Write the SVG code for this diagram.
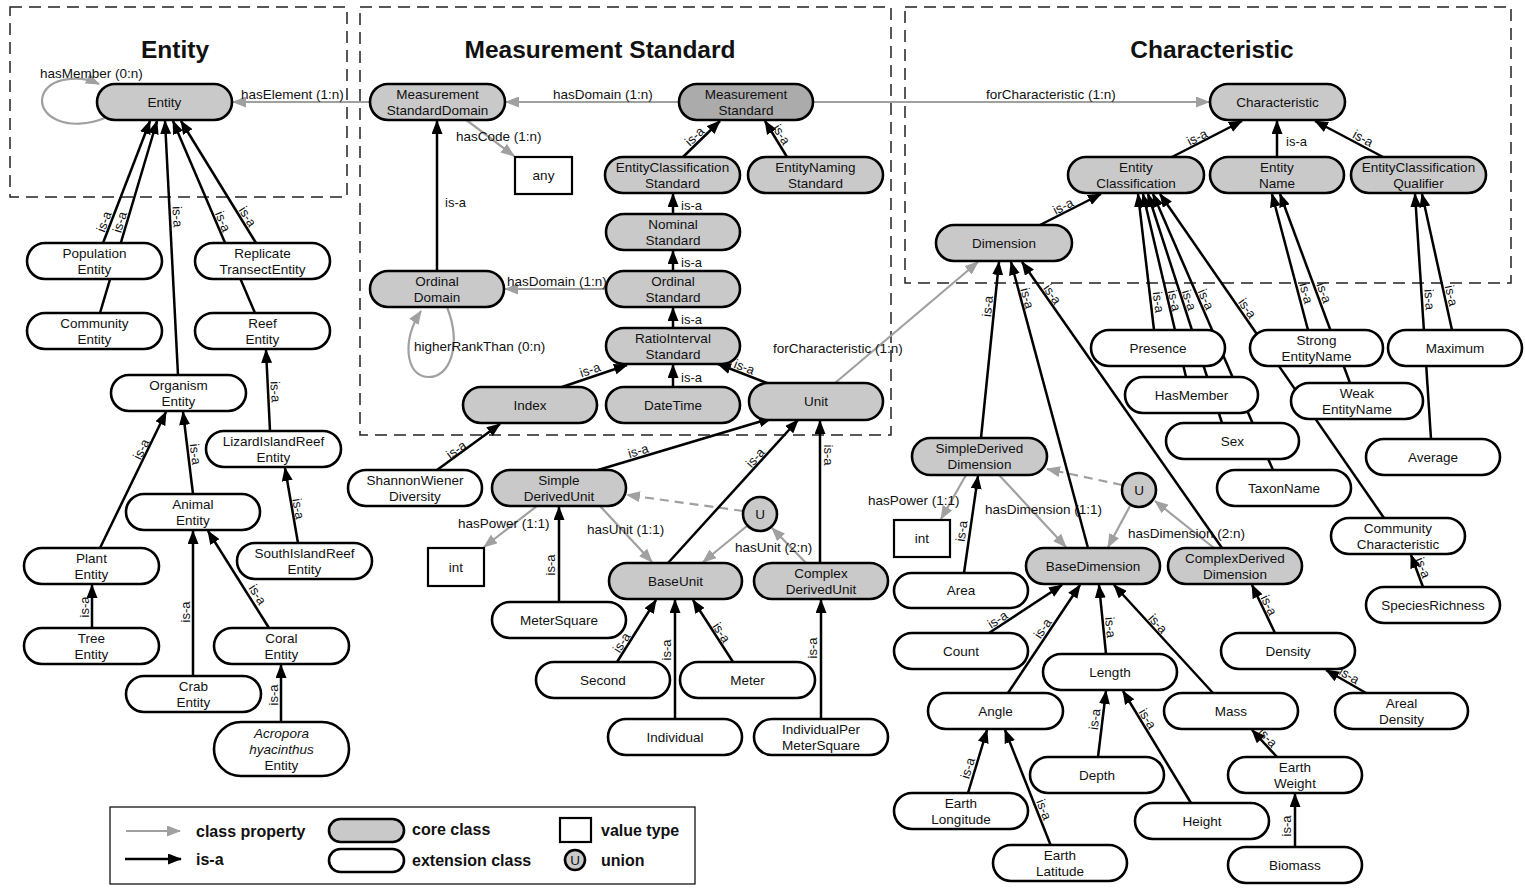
<svg xmlns="http://www.w3.org/2000/svg" width="1525" height="891" viewBox="0 0 1525 891">
<style>
.core{fill:#c9c9c9;stroke:#000;stroke-width:2.6}
.dark{fill:#ababab;stroke:#000;stroke-width:2.6}
.ext{fill:#fff;stroke:#000;stroke-width:2.6}
.val{fill:#fff;stroke:#000;stroke-width:2.2}
text{font-family:"Liberation Sans",Arial,sans-serif;fill:#111}
.t{font-size:13.5px;text-anchor:middle}
.lb{font-size:13.5px}
.isa{font-size:13px;text-anchor:middle}
.isl{font-size:13px}
.title{font-weight:bold;font-size:24.5px;text-anchor:middle}
.leg{font-weight:bold;font-size:16px}
.box{fill:none;stroke:#222;stroke-width:1.5;stroke-dasharray:12 7}
.is{stroke:#000;stroke-width:2.5;fill:none;marker-end:url(#ab)}
.pr{stroke:#a0a0a0;stroke-width:2.2;fill:none;marker-end:url(#ag)}
.dash{stroke-dasharray:9 6}
</style>
<defs>
<marker id="ab" viewBox="0 0 14 11" refX="13" refY="5.5" markerWidth="14" markerHeight="11" markerUnits="userSpaceOnUse" orient="auto"><path d="M0,0 L14,5.5 L0,11 z" fill="#000"/></marker>
<marker id="ag" viewBox="0 0 14 11" refX="13" refY="5.5" markerWidth="14" markerHeight="11" markerUnits="userSpaceOnUse" orient="auto"><path d="M0,0 L14,5.5 L0,11 z" fill="#a0a0a0"/></marker>
</defs>
<rect width="1525" height="891" fill="#fff"/>
<g id="packages">
<rect class="box" x="10" y="7" width="337" height="190"/>
<rect class="box" x="360" y="7" width="531" height="428"/>
<rect class="box" x="905" y="7" width="606" height="276"/>
<text class="title" x="175" y="58">Entity</text>
<text class="title" x="600" y="58">Measurement Standard</text>
<text class="title" x="1212" y="58">Characteristic</text>
</g>
<g id="connectors">
<!-- class properties -->
<path class="pr" d="M107,117 C68,134 36,116 43,95 C50,77 80,75 99,84"/>
<text class="lb" x="40" y="78">hasMember (0:n)</text>
<line class="pr" x1="370" y1="102" x2="233" y2="102"/>
<text class="lb" x="241" y="99">hasElement (1:n)</text>
<line class="pr" x1="679" y1="102" x2="506" y2="102"/>
<text class="lb" x="553" y="99">hasDomain (1:n)</text>
<line class="pr" x1="813" y1="102" x2="1209" y2="102"/>
<text class="lb" x="986" y="99">forCharacteristic (1:n)</text>
<line class="pr" x1="465" y1="119" x2="514" y2="156"/>
<text class="lb" x="456" y="141">hasCode (1:n)</text>
<line class="pr" x1="606" y1="289" x2="505" y2="289"/>
<text class="lb" x="507" y="286">hasDomain (1:n)</text>
<path class="pr" d="M447,307 C462,345 450,378 428,377 C405,376 402,340 421,311"/>
<text class="lb" x="414" y="351">higherRankThan (0:n)</text>
<line class="pr" x1="835" y1="383" x2="978" y2="262"/>
<text class="lb" x="773" y="353">forCharacteristic (1:n)</text>
<line class="pr" x1="537" y1="506" x2="484" y2="547"/>
<text class="lb" x="458" y="528">hasPower (1:1)</text>
<line class="pr" x1="600" y1="506" x2="652" y2="562"/>
<text class="lb" x="587" y="534">hasUnit (1:1)</text>
<line class="pr dash" x1="743" y1="511" x2="627" y2="495"/>
<line class="pr" x1="747" y1="526" x2="703" y2="562"/>
<line class="pr" x1="806" y1="563" x2="772" y2="528"/>
<text class="lb" x="735" y="552">hasUnit (2:n)</text>
<line class="pr" x1="966" y1="475" x2="941" y2="519"/>
<text class="lb" x="868" y="505">hasPower (1:1)</text>
<line class="pr" x1="999" y1="475" x2="1066" y2="547"/>
<text class="lb" x="985" y="514">hasDimension (1:1)</text>
<line class="pr dash" x1="1122" y1="485" x2="1047" y2="469"/>
<line class="pr" x1="1130" y1="506" x2="1108" y2="547"/>
<line class="pr" x1="1214" y1="548" x2="1155" y2="501"/>
<text class="lb" x="1128" y="538">hasDimension (2:n)</text>
<!-- is-a : Entity package -->
<line class="is" x1="103" y1="243" x2="150" y2="121"/>
<line class="is" x1="100" y1="313" x2="157" y2="121"/>
<line class="is" x1="178" y1="375" x2="165" y2="121"/>
<line class="is" x1="255" y1="313" x2="173" y2="121"/>
<line class="is" x1="256" y1="243" x2="181" y2="121"/>
<text class="isa" transform="translate(110,224) rotate(-69)" y="-2">is-a</text>
<text class="isa" transform="translate(126,224) rotate(-73)" y="-2">is-a</text>
<text class="isa" transform="translate(171,217) rotate(87)" y="-2">is-a</text>
<text class="isa" transform="translate(217,224) rotate(67)" y="-2">is-a</text>
<text class="isa" transform="translate(242,220) rotate(58)" y="-2">is-a</text>
<line class="is" x1="100" y1="548" x2="166" y2="412"/>
<text class="isa" transform="translate(147,452) rotate(-64)" y="-2">is-a</text>
<line class="is" x1="193" y1="494" x2="183" y2="412"/>
<text class="isa" transform="translate(189,455) rotate(83)" y="-2">is-a</text>
<line class="is" x1="92" y1="628" x2="92" y2="585"/>
<text class="isa" transform="translate(91,607) rotate(-90)" y="-2">is-a</text>
<line class="is" x1="193" y1="676" x2="193" y2="531"/>
<text class="isa" transform="translate(192,612) rotate(-90)" y="-2">is-a</text>
<line class="is" x1="269" y1="628" x2="208" y2="531"/>
<text class="isa" transform="translate(252,598) rotate(58)" y="-2">is-a</text>
<line class="is" x1="281" y1="722" x2="281" y2="665"/>
<text class="isa" transform="translate(280,695) rotate(-90)" y="-2">is-a</text>
<line class="is" x1="270" y1="431" x2="266" y2="350"/>
<text class="isa" transform="translate(269,392) rotate(87)" y="-2">is-a</text>
<line class="is" x1="298" y1="543" x2="285" y2="468"/>
<text class="isa" transform="translate(292,510) rotate(80)" y="-2">is-a</text>
<!-- is-a : Measurement Standard -->
<line class="is" x1="437" y1="271" x2="437" y2="121"/>
<text class="isl" x="445" y="207">is-a</text>
<line class="is" x1="683" y1="157" x2="720" y2="121"/>
<text class="isa" transform="translate(699,141) rotate(-44)" y="-2">is-a</text>
<line class="is" x1="787" y1="157" x2="765" y2="121"/>
<text class="isa" transform="translate(776,138) rotate(58)" y="-2">is-a</text>
<line class="is" x1="673" y1="214" x2="673" y2="194"/>
<text class="isl" x="681" y="210">is-a</text>
<line class="is" x1="673" y1="271" x2="673" y2="251"/>
<text class="isl" x="681" y="267">is-a</text>
<line class="is" x1="673" y1="328" x2="673" y2="308"/>
<text class="isl" x="681" y="324">is-a</text>
<line class="is" x1="673" y1="387" x2="673" y2="365"/>
<text class="isl" x="681" y="382">is-a</text>
<line class="is" x1="562" y1="387" x2="627" y2="365"/>
<text class="isa" transform="translate(592,376) rotate(-19)" y="-2">is-a</text>
<line class="is" x1="767" y1="383" x2="718" y2="364"/>
<text class="isa" transform="translate(742,373) rotate(21)" y="-2">is-a</text>
<line class="is" x1="437" y1="470" x2="500" y2="424"/>
<text class="isa" transform="translate(460,455) rotate(-36)" y="-2">is-a</text>
<line class="is" x1="598" y1="470" x2="772" y2="418"/>
<text class="isa" transform="translate(640,457) rotate(-17)" y="-2">is-a</text>
<line class="is" x1="668" y1="563" x2="798" y2="420"/>
<text class="isa" transform="translate(760,462) rotate(-48)" y="-2">is-a</text>
<line class="is" x1="820" y1="563" x2="820" y2="421"/>
<text class="isa" transform="translate(822,455) rotate(90)" y="-2">is-a</text>
<line class="is" x1="559" y1="602" x2="559" y2="507"/>
<text class="isa" transform="translate(557,565) rotate(-90)" y="-2">is-a</text>
<line class="is" x1="617" y1="662" x2="656" y2="600"/>
<text class="isa" transform="translate(627,646) rotate(-58)" y="-2">is-a</text>
<line class="is" x1="675" y1="719" x2="675" y2="600"/>
<text class="isa" transform="translate(673,650) rotate(-90)" y="-2">is-a</text>
<line class="is" x1="733" y1="662" x2="693" y2="600"/>
<text class="isa" transform="translate(716,636) rotate(57)" y="-2">is-a</text>
<line class="is" x1="821" y1="719" x2="821" y2="600"/>
<text class="isa" transform="translate(819,648) rotate(-90)" y="-2">is-a</text>
<!-- is-a : Characteristic -->
<line class="is" x1="1172" y1="157" x2="1242" y2="121"/>
<text class="isa" transform="translate(1200,143) rotate(-27)" y="-2">is-a</text>
<line class="is" x1="1277" y1="157" x2="1277" y2="121"/>
<text class="isl" x="1286" y="146">is-a</text>
<line class="is" x1="1383" y1="157" x2="1315" y2="121"/>
<text class="isa" transform="translate(1360,144) rotate(28)" y="-2">is-a</text>
<line class="is" x1="1040" y1="225" x2="1101" y2="194"/>
<text class="isa" transform="translate(1066,212) rotate(-27)" y="-2">is-a</text>
<line class="is" x1="1154" y1="330" x2="1138" y2="194"/>
<line class="is" x1="1186" y1="377" x2="1143" y2="194"/>
<line class="is" x1="1222" y1="423" x2="1148" y2="194"/>
<line class="is" x1="1273" y1="470" x2="1153" y2="194"/>
<line class="is" x1="1384" y1="518" x2="1160" y2="194"/>
<text class="isa" transform="translate(1152,303) rotate(83)" y="-2">is-a</text>
<text class="isa" transform="translate(1168,302) rotate(77)" y="-2">is-a</text>
<text class="isa" transform="translate(1183,302) rotate(72)" y="-2">is-a</text>
<text class="isa" transform="translate(1200,302) rotate(66)" y="-2">is-a</text>
<text class="isa" transform="translate(1242,312) rotate(55)" y="-2">is-a</text>
<line class="is" x1="1308" y1="330" x2="1272" y2="194"/>
<line class="is" x1="1350" y1="383" x2="1280" y2="194"/>
<text class="isa" transform="translate(1300,295) rotate(75)" y="-2">is-a</text>
<text class="isa" transform="translate(1318,295) rotate(70)" y="-2">is-a</text>
<line class="is" x1="1431" y1="439" x2="1415" y2="194"/>
<line class="is" x1="1452" y1="330" x2="1422" y2="194"/>
<text class="isa" transform="translate(1423,300) rotate(86)" y="-2">is-a</text>
<text class="isa" transform="translate(1445,297) rotate(78)" y="-2">is-a</text>
<line class="is" x1="981" y1="438" x2="999" y2="262"/>
<line class="is" x1="1088" y1="548" x2="1011" y2="262"/>
<line class="is" x1="1222" y1="548" x2="1022" y2="262"/>
<text class="isa" transform="translate(994,307) rotate(-84)" y="-2">is-a</text>
<text class="isa" transform="translate(1021,300) rotate(75)" y="-2">is-a</text>
<text class="isa" transform="translate(1047,298) rotate(55)" y="-2">is-a</text>
<line class="is" x1="964" y1="573" x2="978" y2="476"/>
<text class="isa" transform="translate(968,532) rotate(-82)" y="-2">is-a</text>
<line class="is" x1="989" y1="633" x2="1062" y2="585"/>
<text class="isa" transform="translate(1001,625) rotate(-33)" y="-2">is-a</text>
<line class="is" x1="1008" y1="693" x2="1080" y2="585"/>
<text class="isa" transform="translate(1048,632) rotate(-56)" y="-2">is-a</text>
<line class="is" x1="1106" y1="654" x2="1099" y2="585"/>
<text class="isa" transform="translate(1104,628) rotate(84)" y="-2">is-a</text>
<line class="is" x1="1213" y1="693" x2="1114" y2="585"/>
<text class="isa" transform="translate(1153,628) rotate(48)" y="-2">is-a</text>
<line class="is" x1="1275" y1="633" x2="1252" y2="585"/>
<text class="isa" transform="translate(1263,608) rotate(64)" y="-2">is-a</text>
<line class="is" x1="1366" y1="693" x2="1326" y2="670"/>
<text class="isa" transform="translate(1346,681) rotate(30)" y="-2">is-a</text>
<line class="is" x1="968" y1="793" x2="987" y2="730"/>
<text class="isa" transform="translate(974,770) rotate(-73)" y="-2">is-a</text>
<line class="is" x1="1051" y1="846" x2="1005" y2="730"/>
<text class="isa" transform="translate(1038,812) rotate(68)" y="-2">is-a</text>
<line class="is" x1="1098" y1="757" x2="1106" y2="691"/>
<text class="isa" transform="translate(1101,720) rotate(-83)" y="-2">is-a</text>
<line class="is" x1="1191" y1="803" x2="1123" y2="691"/>
<text class="isa" transform="translate(1142,722) rotate(59)" y="-2">is-a</text>
<line class="is" x1="1277" y1="757" x2="1252" y2="730"/>
<text class="isa" transform="translate(1263,742) rotate(47)" y="-2">is-a</text>
<line class="is" x1="1295" y1="847" x2="1295" y2="794"/>
<text class="isa" transform="translate(1293,826) rotate(-90)" y="-2">is-a</text>
<line class="is" x1="1423" y1="587" x2="1411" y2="555"/>
<text class="isa" transform="translate(1417,570) rotate(69)" y="-2">is-a</text>
</g>
<!-- Entity package nodes -->
<g id="n-entity"><rect class="core" x="97" y="84" width="135" height="36" rx="18"/><text class="t" x="164.5" y="107">Entity</text></g>
<g id="n-population"><rect class="ext" x="27" y="243" width="135" height="36" rx="18"/><text class="t"><tspan x="94.5" y="258">Population</tspan><tspan x="94.5" y="274">Entity</tspan></text></g>
<g id="n-replicate"><rect class="ext" x="195" y="243" width="135" height="36" rx="18"/><text class="t"><tspan x="262.5" y="258">Replicate</tspan><tspan x="262.5" y="274">TransectEntity</tspan></text></g>
<g id="n-community"><rect class="ext" x="27" y="313" width="135" height="36" rx="18"/><text class="t"><tspan x="94.5" y="328">Community</tspan><tspan x="94.5" y="344">Entity</tspan></text></g>
<g id="n-reef"><rect class="ext" x="195" y="313" width="135" height="36" rx="18"/><text class="t"><tspan x="262.5" y="328">Reef</tspan><tspan x="262.5" y="344">Entity</tspan></text></g>
<g id="n-organism"><rect class="ext" x="111" y="375" width="135" height="36" rx="18"/><text class="t"><tspan x="178.5" y="390">Organism</tspan><tspan x="178.5" y="406">Entity</tspan></text></g>
<g id="n-lizard"><rect class="ext" x="206" y="431" width="135" height="36" rx="18"/><text class="t"><tspan x="273.5" y="446">LizardIslandReef</tspan><tspan x="273.5" y="462">Entity</tspan></text></g>
<g id="n-animal"><rect class="ext" x="126" y="494" width="134" height="36" rx="18"/><text class="t"><tspan x="193" y="509">Animal</tspan><tspan x="193" y="525">Entity</tspan></text></g>
<g id="n-southisland"><rect class="ext" x="237" y="543" width="135" height="36" rx="18"/><text class="t"><tspan x="304.5" y="558">SouthIslandReef</tspan><tspan x="304.5" y="574">Entity</tspan></text></g>
<g id="n-plant"><rect class="ext" x="24" y="548" width="135" height="36" rx="18"/><text class="t"><tspan x="91.5" y="563">Plant</tspan><tspan x="91.5" y="579">Entity</tspan></text></g>
<g id="n-tree"><rect class="ext" x="24" y="628" width="135" height="36" rx="18"/><text class="t"><tspan x="91.5" y="643">Tree</tspan><tspan x="91.5" y="659">Entity</tspan></text></g>
<g id="n-coral"><rect class="ext" x="214" y="628" width="135" height="36" rx="18"/><text class="t"><tspan x="281.5" y="643">Coral</tspan><tspan x="281.5" y="659">Entity</tspan></text></g>
<g id="n-crab"><rect class="ext" x="126" y="676" width="135" height="36" rx="18"/><text class="t"><tspan x="193.5" y="691">Crab</tspan><tspan x="193.5" y="707">Entity</tspan></text></g>
<g id="n-acropora"><rect class="ext" x="214" y="722" width="135" height="54" rx="27"/><text class="t"><tspan x="281.5" y="738" font-style="italic">Acropora</tspan><tspan x="281.5" y="754" font-style="italic">hyacinthus</tspan><tspan x="281.5" y="770">Entity</tspan></text></g>
<!-- Measurement Standard package nodes -->
<g id="n-msd"><rect class="core" x="370" y="84" width="135" height="36" rx="18"/><text class="t"><tspan x="437.5" y="99">Measurement</tspan><tspan x="437.5" y="115">StandardDomain</tspan></text></g>
<g id="n-ms"><rect class="dark" x="679" y="84" width="134" height="36" rx="18"/><text class="t"><tspan x="746" y="99">Measurement</tspan><tspan x="746" y="115">Standard</tspan></text></g>
<g id="n-any"><rect class="val" x="515" y="157" width="57" height="37"/><text class="t" x="543.5" y="180">any</text></g>
<g id="n-ecs"><rect class="core" x="605" y="157" width="135" height="36" rx="18"/><text class="t"><tspan x="672.5" y="172">EntityClassification</tspan><tspan x="672.5" y="188">Standard</tspan></text></g>
<g id="n-ens"><rect class="core" x="748" y="157" width="135" height="36" rx="18"/><text class="t"><tspan x="815.5" y="172">EntityNaming</tspan><tspan x="815.5" y="188">Standard</tspan></text></g>
<g id="n-nominal"><rect class="core" x="606" y="214" width="134" height="36" rx="18"/><text class="t"><tspan x="673" y="229">Nominal</tspan><tspan x="673" y="245">Standard</tspan></text></g>
<g id="n-ordinalstd"><rect class="core" x="606" y="271" width="134" height="36" rx="18"/><text class="t"><tspan x="673" y="286">Ordinal</tspan><tspan x="673" y="302">Standard</tspan></text></g>
<g id="n-ordinaldom"><rect class="core" x="370" y="271" width="134" height="36" rx="18"/><text class="t"><tspan x="437" y="286">Ordinal</tspan><tspan x="437" y="302">Domain</tspan></text></g>
<g id="n-ratio"><rect class="core" x="606" y="328" width="134" height="36" rx="18"/><text class="t"><tspan x="673" y="343">RatioInterval</tspan><tspan x="673" y="359">Standard</tspan></text></g>
<g id="n-index"><rect class="core" x="463" y="387" width="134" height="36" rx="18"/><text class="t" x="530" y="410">Index</text></g>
<g id="n-datetime"><rect class="core" x="606" y="387" width="134" height="36" rx="18"/><text class="t" x="673" y="410">DateTime</text></g>
<g id="n-unit"><rect class="core" x="749" y="383" width="134" height="37" rx="18.5"/><text class="t" x="816" y="406">Unit</text></g>
<g id="n-shannon"><rect class="ext" x="348" y="470" width="134" height="36" rx="18"/><text class="t"><tspan x="415" y="485">ShannonWiener</tspan><tspan x="415" y="501">Diversity</tspan></text></g>
<g id="n-sdu"><rect class="core" x="492" y="470" width="134" height="36" rx="18"/><text class="t"><tspan x="559" y="485">Simple</tspan><tspan x="559" y="501">DerivedUnit</tspan></text></g>
<g id="n-int1"><rect class="val" x="428" y="548" width="56" height="38"/><text class="t" x="456" y="572">int</text></g>
<g id="n-u1"><circle class="core" cx="760" cy="514" r="17"/><text class="t" x="760" y="519">U</text></g>
<g id="n-baseunit"><rect class="core" x="609" y="563" width="133" height="36" rx="18"/><text class="t" x="675.5" y="586">BaseUnit</text></g>
<g id="n-cdu"><rect class="core" x="754" y="563" width="134" height="36" rx="18"/><text class="t"><tspan x="821" y="578">Complex</tspan><tspan x="821" y="594">DerivedUnit</tspan></text></g>
<g id="n-metersquare"><rect class="ext" x="492" y="602" width="134" height="36" rx="18"/><text class="t" x="559" y="625">MeterSquare</text></g>
<g id="n-second"><rect class="ext" x="536" y="662" width="134" height="36" rx="18"/><text class="t" x="603" y="685">Second</text></g>
<g id="n-meter"><rect class="ext" x="680" y="662" width="135" height="36" rx="18"/><text class="t" x="747.5" y="685">Meter</text></g>
<g id="n-individual"><rect class="ext" x="608" y="719" width="134" height="36" rx="18"/><text class="t" x="675" y="742">Individual</text></g>
<g id="n-ipms"><rect class="ext" x="754" y="719" width="134" height="36" rx="18"/><text class="t"><tspan x="821" y="734">IndividualPer</tspan><tspan x="821" y="750">MeterSquare</tspan></text></g>
<!-- Characteristic package nodes -->
<g id="n-characteristic"><rect class="core" x="1210" y="84" width="135" height="36" rx="18"/><text class="t" x="1277.5" y="107">Characteristic</text></g>
<g id="n-ec"><rect class="core" x="1068" y="157" width="136" height="36" rx="18"/><text class="t"><tspan x="1136" y="172">Entity</tspan><tspan x="1136" y="188">Classification</tspan></text></g>
<g id="n-en"><rect class="core" x="1210" y="157" width="134" height="36" rx="18"/><text class="t"><tspan x="1277" y="172">Entity</tspan><tspan x="1277" y="188">Name</tspan></text></g>
<g id="n-ecq"><rect class="core" x="1351" y="157" width="135" height="36" rx="18"/><text class="t"><tspan x="1418.5" y="172">EntityClassification</tspan><tspan x="1418.5" y="188">Qualifier</tspan></text></g>
<g id="n-dimension"><rect class="core" x="936" y="225" width="136" height="36" rx="18"/><text class="t" x="1004" y="248">Dimension</text></g>
<g id="n-presence"><rect class="ext" x="1091" y="330" width="134" height="36" rx="18"/><text class="t" x="1158" y="353">Presence</text></g>
<g id="n-strong"><rect class="ext" x="1250" y="330" width="133" height="36" rx="18"/><text class="t"><tspan x="1316.5" y="345">Strong</tspan><tspan x="1316.5" y="361">EntityName</tspan></text></g>
<g id="n-maximum"><rect class="ext" x="1388" y="330" width="134" height="36" rx="18"/><text class="t" x="1455" y="353">Maximum</text></g>
<g id="n-hasmember"><rect class="ext" x="1125" y="377" width="133" height="36" rx="18"/><text class="t" x="1191.5" y="400">HasMember</text></g>
<g id="n-weak"><rect class="ext" x="1291" y="383" width="132" height="36" rx="18"/><text class="t"><tspan x="1357" y="398">Weak</tspan><tspan x="1357" y="414">EntityName</tspan></text></g>
<g id="n-sex"><rect class="ext" x="1166" y="423" width="133" height="36" rx="18"/><text class="t" x="1232.5" y="446">Sex</text></g>
<g id="n-average"><rect class="ext" x="1366" y="439" width="134" height="36" rx="18"/><text class="t" x="1433" y="462">Average</text></g>
<g id="n-taxon"><rect class="ext" x="1217" y="470" width="134" height="36" rx="18"/><text class="t" x="1284" y="493">TaxonName</text></g>
<g id="n-commchar"><rect class="ext" x="1331" y="518" width="134" height="36" rx="18"/><text class="t"><tspan x="1398" y="533">Community</tspan><tspan x="1398" y="549">Characteristic</tspan></text></g>
<g id="n-species"><rect class="ext" x="1366" y="587" width="134" height="36" rx="18"/><text class="t" x="1433" y="610">SpeciesRichness</text></g>
<g id="n-sdd"><rect class="core" x="912" y="438" width="135" height="37" rx="18.5"/><text class="t"><tspan x="979.5" y="453">SimpleDerived</tspan><tspan x="979.5" y="469">Dimension</tspan></text></g>
<g id="n-u2"><circle class="core" cx="1139" cy="490" r="17"/><text class="t" x="1139" y="495">U</text></g>
<g id="n-int2"><rect class="val" x="894" y="520" width="56" height="37"/><text class="t" x="922" y="543">int</text></g>
<g id="n-area"><rect class="ext" x="894" y="573" width="134" height="35" rx="17.5"/><text class="t" x="961" y="595">Area</text></g>
<g id="n-bd"><rect class="core" x="1026" y="548" width="134" height="36" rx="18"/><text class="t" x="1093" y="571">BaseDimension</text></g>
<g id="n-cdd"><rect class="core" x="1168" y="548" width="134" height="36" rx="18"/><text class="t"><tspan x="1235" y="563">ComplexDerived</tspan><tspan x="1235" y="579">Dimension</tspan></text></g>
<g id="n-count"><rect class="ext" x="894" y="633" width="134" height="36" rx="18"/><text class="t" x="961" y="656">Count</text></g>
<g id="n-density"><rect class="ext" x="1221" y="633" width="134" height="36" rx="18"/><text class="t" x="1288" y="656">Density</text></g>
<g id="n-length"><rect class="ext" x="1043" y="654" width="134" height="36" rx="18"/><text class="t" x="1110" y="677">Length</text></g>
<g id="n-angle"><rect class="ext" x="928" y="693" width="135" height="36" rx="18"/><text class="t" x="995.5" y="716">Angle</text></g>
<g id="n-mass"><rect class="ext" x="1164" y="693" width="134" height="36" rx="18"/><text class="t" x="1231" y="716">Mass</text></g>
<g id="n-areal"><rect class="ext" x="1335" y="693" width="133" height="36" rx="18"/><text class="t"><tspan x="1401.5" y="708">Areal</tspan><tspan x="1401.5" y="724">Density</tspan></text></g>
<g id="n-depth"><rect class="ext" x="1030" y="757" width="134" height="36" rx="18"/><text class="t" x="1097" y="780">Depth</text></g>
<g id="n-earthweight"><rect class="ext" x="1228" y="757" width="134" height="36" rx="18"/><text class="t"><tspan x="1295" y="772">Earth</tspan><tspan x="1295" y="788">Weight</tspan></text></g>
<g id="n-earthlong"><rect class="ext" x="894" y="793" width="134" height="36" rx="18"/><text class="t"><tspan x="961" y="808">Earth</tspan><tspan x="961" y="824">Longitude</tspan></text></g>
<g id="n-height"><rect class="ext" x="1135" y="803" width="134" height="36" rx="18"/><text class="t" x="1202" y="826">Height</text></g>
<g id="n-earthlat"><rect class="ext" x="993" y="845" width="134" height="36" rx="18"/><text class="t"><tspan x="1060" y="860">Earth</tspan><tspan x="1060" y="876">Latitude</tspan></text></g>
<g id="n-biomass"><rect class="ext" x="1228" y="847" width="134" height="36" rx="18"/><text class="t" x="1295" y="870">Biomass</text></g>
<!-- legend -->
<g id="legend">
<rect x="110" y="807" width="585" height="77" fill="#fff" stroke="#000" stroke-width="1.2"/>
<line class="pr" x1="126" y1="831" x2="180" y2="831"/>
<line class="is" x1="125" y1="859" x2="181" y2="859"/>
<text class="leg" x="196" y="837">class property</text>
<text class="leg" x="196" y="865">is-a</text>
<rect class="core" x="329" y="819" width="75" height="23" rx="11.5"/>
<rect class="ext" x="329" y="849" width="75" height="23" rx="11.5"/>
<text class="leg" x="412" y="835">core class</text>
<text class="leg" x="412" y="866">extension class</text>
<rect class="val" x="560" y="818" width="31" height="24"/>
<circle class="core" cx="575" cy="860" r="10" stroke-width="2"/>
<text class="t" x="575" y="865" font-size="12">U</text>
<text class="leg" x="601" y="836">value type</text>
<text class="leg" x="601" y="866">union</text>
</g>
</svg>
